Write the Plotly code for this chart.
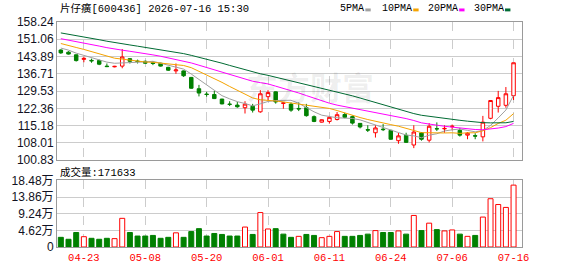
import plotly.graph_objects as go
import pandas as pd

# ---------------- data ----------------
dates = [
    "2026-04-20", "2026-04-21", "2026-04-22", "2026-04-23", "2026-04-24",
    "2026-04-27", "2026-04-28", "2026-04-29", "2026-04-30",
    "2026-05-06", "2026-05-07", "2026-05-08", "2026-05-11", "2026-05-12",
    "2026-05-13", "2026-05-14", "2026-05-15", "2026-05-18", "2026-05-19",
    "2026-05-20", "2026-05-21", "2026-05-22", "2026-05-25", "2026-05-26",
    "2026-05-27", "2026-05-28", "2026-05-29",
    "2026-06-01", "2026-06-02", "2026-06-03", "2026-06-04", "2026-06-05",
    "2026-06-08", "2026-06-09", "2026-06-10", "2026-06-11", "2026-06-12",
    "2026-06-15", "2026-06-16", "2026-06-17", "2026-06-18", "2026-06-22",
    "2026-06-23", "2026-06-24", "2026-06-25", "2026-06-26", "2026-06-29",
    "2026-06-30",
    "2026-07-01", "2026-07-02", "2026-07-03", "2026-07-06", "2026-07-07",
    "2026-07-08", "2026-07-09", "2026-07-10", "2026-07-13", "2026-07-14",
    "2026-07-15", "2026-07-16",
]

opens = [146.6, 145.7, 144.6, 142.7, 142.3, 142.2, 139.9, 139.6, 139.9, 143.0,
         142.0, 141.9, 141.3, 141.1, 139.4, 137.9, 137.9, 135.2, 130.5, 128.3,
         128.1, 126.2, 124.1, 123.7, 122.6, 123.2, 120.9, 127.2, 129.2, 124.4,
         124.1, 122.3, 122.6, 118.9, 116.6, 116.9, 117.7, 119.8, 118.9, 116.1,
         113.5, 112.2, 113.7, 113.2, 108.9, 111.1, 107.1, 112.2, 109.1, 113.9,
         113.8, 114.7, 113.2, 111.2, 111.0, 110.5, 118.2, 123.2, 123.6, 127.6]
highs = [146.9, 146.1, 144.7, 143.8, 143.0, 142.6, 141.0, 140.0, 147.0, 143.2,
         142.6, 142.2, 141.9, 141.3, 139.6, 141.0, 138.1, 135.4, 132.1, 129.2,
         129.6, 126.3, 125.3, 125.0, 125.3, 124.2, 129.9, 129.9, 129.4, 124.9,
         124.8, 124.8, 124.2, 119.4, 117.8, 119.2, 120.8, 120.5, 119.4, 116.2,
         115.3, 115.4, 115.8, 113.4, 112.1, 112.2, 115.3, 112.5, 116.2, 116.5,
         115.3, 115.6, 114.2, 112.5, 112.0, 119.2, 125.8, 129.6, 131.2, 141.3]
lows = [145.0, 144.7, 141.8, 141.5, 141.3, 140.3, 139.5, 139.4, 139.0, 141.0,
        141.0, 140.9, 140.3, 139.7, 137.9, 136.7, 135.4, 130.5, 127.3, 127.2,
        126.2, 124.0, 123.3, 122.6, 120.2, 120.6, 120.5, 125.6, 124.3, 122.2,
        120.9, 121.2, 118.9, 116.6, 116.4, 116.0, 117.3, 118.2, 115.6, 114.0,
        112.5, 110.2, 112.9, 109.3, 107.6, 108.0, 105.8, 108.9, 108.2, 112.9,
        112.2, 113.2, 110.6, 109.5, 109.5, 108.6, 117.8, 120.6, 122.6, 125.8]
closes = [145.4, 144.9, 142.2, 143.1, 142.1, 140.7, 139.7, 139.8, 143.7, 141.9,
          141.8, 141.1, 141.0, 139.9, 138.2, 138.3, 135.9, 130.7, 128.7, 128.1,
          126.4, 124.2, 124.0, 123.0, 124.1, 121.6, 128.4, 128.9, 125.0, 124.6,
          121.6, 122.1, 119.3, 116.9, 117.6, 118.6, 119.7, 118.6, 116.2, 114.6,
          113.3, 114.2, 113.5, 109.5, 110.9, 108.2, 112.5, 109.5, 114.9, 113.8,
          114.0, 114.9, 111.2, 112.0, 110.8, 116.6, 125.6, 126.8, 128.4, 141.3]
volumes = [26800, 21400, 40200, 28600, 24100, 21400, 24100, 23200, 79500, 40200,
           30400, 30400, 32100, 24100, 26800, 39300, 26800, 42800, 50900, 30400,
           37500, 34800, 30400, 30400, 55300, 34800, 95500, 50000, 50900, 35700,
           26800, 29500, 34800, 32100, 25900, 29500, 42800, 29500, 29500, 32100,
           35700, 45500, 40200, 40200, 44600, 35700, 87500, 45500, 66100, 48200,
           44600, 47300, 35700, 29500, 32100, 83000, 133900, 117800, 109800, 171633]
# closes of the 29 sessions before the window (estimated so the MAs match)
history_closes = [160.5, 160.0, 159.8, 159.0, 158.6, 158.2, 157.8, 157.4, 157.0, 156.7,
                  156.0, 155.5, 155.0, 154.2, 153.6, 153.0, 152.5, 151.8, 151.2, 150.2,
                  152.0, 151.6, 151.2, 150.8, 150.4, 149.2, 148.4, 147.6, 146.4]

price_ticks = [100.83, 108.01, 115.18, 122.36, 129.53, 136.71, 143.89, 151.06, 158.24]
vol_ticks = [0, 46200, 92400, 138600, 184800]
vol_tick_text = ["0", "4.62万", "9.24万", "13.86万", "18.48万"]
label_dates = ["2026-04-23", "2026-05-08", "2026-05-20", "2026-06-01",
               "2026-06-11", "2026-06-24", "2026-07-06", "2026-07-16"]
stock_title = "片仔癀[600436] 2026-07-16 15:30"
ma_periods = [5, 10, 20, 30]

# ---------------- derived ----------------
n_hist = len(history_closes)
series = pd.Series(history_closes + closes)
ma = {p: series.rolling(p).mean().iloc[n_hist:].round(3).tolist() for p in ma_periods}
prev_close = [history_closes[-1]] + closes[:-1]
vol_up = [c >= p for c, p in zip(closes, prev_close)]

RED = "#ff0000"
GREEN = "#008000"
ma_colors = {5: "#a0a0a0", 10: "#f5a300", 20: "#ff00ff", 30: "#006b33"}

W, H = 578, 276
L, R, T, B = 56, 56, 22, 21
PW, PH = W - L - R, H - T - B


def px(x):
    return (x - L) / PW


def py(y):
    return (H - B - y) / PH


fig = go.Figure()
fig.add_trace(go.Candlestick(
    x=dates, open=opens, high=highs, low=lows, close=closes,
    increasing=dict(line=dict(color=RED, width=1), fillcolor="#ffffff"),
    decreasing=dict(line=dict(color=GREEN, width=1), fillcolor=GREEN),
    whiskerwidth=0, xaxis="x", yaxis="y", hoverinfo="skip", showlegend=False))
for p in ma_periods:
    fig.add_trace(go.Scatter(x=dates, y=ma[p], mode="lines",
                             line=dict(color=ma_colors[p], width=1),
                             xaxis="x", yaxis="y", hoverinfo="skip", showlegend=False))
fig.add_trace(go.Bar(
    x=dates, y=volumes,
    marker=dict(color=["#ffffff" if u else GREEN for u in vol_up],
                line=dict(color=[RED if u else GREEN for u in vol_up], width=1)),
    xaxis="x2", yaxis="y2", hoverinfo="skip", showlegend=False))

axis_common = dict(showline=True, mirror=True, linecolor="#9a9a9a", linewidth=1,
                   zeroline=False, ticks="")
fig.update_layout(
    width=W, height=H, margin=dict(l=L, r=R, t=T, b=B),
    paper_bgcolor="#ffffff", plot_bgcolor="#ffffff",
    showlegend=False, bargap=0.35, boxgap=0.35,
    xaxis=dict(type="category", domain=[0, 1], anchor="y", range=[-0.5, 60.1],
               tickvals=label_dates, showticklabels=False, showgrid=True,
               gridcolor="#cccccc", griddash="dash", rangeslider=dict(visible=False),
               **axis_common),
    xaxis2=dict(type="category", domain=[0, 1], anchor="y2", matches="x",
                tickvals=label_dates, ticktext=[d[5:] for d in label_dates],
                showgrid=True, gridcolor="#cccccc", griddash="dash",
                tickfont=dict(family="Liberation Mono", size=10.5, color=RED),
                **axis_common),
    yaxis=dict(domain=[py(165), 1], range=[price_ticks[0], price_ticks[-1]],
               tickvals=price_ticks, ticktext=[f"{v:.2f}" for v in price_ticks],
               showgrid=True, gridcolor="#cccccc",
               tickfont=dict(family="Liberation Sans", size=12, color="#111122"),
               **axis_common),
    yaxis2=dict(domain=[0, py(186)], range=[vol_ticks[0], vol_ticks[-1]],
                tickvals=vol_ticks, ticktext=vol_tick_text,
                showgrid=True, gridcolor="#cccccc",
                tickfont=dict(family="Liberation Sans, Noto Sans CJK SC", size=12,
                              color="#111122"),
                **axis_common),
)

annotations = [
    dict(text=stock_title, x=px(57), y=py(8.5), xanchor="left", yanchor="middle",
         font=dict(family="Liberation Mono, Noto Sans CJK SC", size=10.5, color="#000000")),
    dict(text=f"成交量:{volumes[-1]}", x=px(57), y=py(177.5), xanchor="left",
         yanchor="middle",
         font=dict(family="Liberation Mono, Noto Sans CJK SC", size=10.5, color="#000000")),
    dict(text="东方财富", x=px(310), y=py(88), xanchor="center", yanchor="middle",
         font=dict(family="Noto Sans CJK SC", size=32, color="rgba(0,0,0,0.07)",
                   weight="bold")),
]
legend_x = {5: 338, 10: 380, 20: 426, 30: 472}
shapes = []
for p in ma_periods:
    label = f"{p}PMA"
    annotations.append(dict(text=label, x=px(legend_x[p]), y=py(8.5), xanchor="left",
                            yanchor="middle",
                            font=dict(family="Liberation Mono", size=10, color="#000000")))
    sx = legend_x[p] + len(label) * 6 + 3
    shapes.append(dict(type="rect", xref="paper", yref="paper",
                       x0=px(sx), x1=px(sx + 5.4), y0=py(11), y1=py(8),
                       fillcolor=ma_colors[p], line=dict(width=0)))
for a in annotations:
    a.update(xref="paper", yref="paper", showarrow=False)
fig.update_layout(annotations=annotations, shapes=shapes)

fig.write_html("out.html")
